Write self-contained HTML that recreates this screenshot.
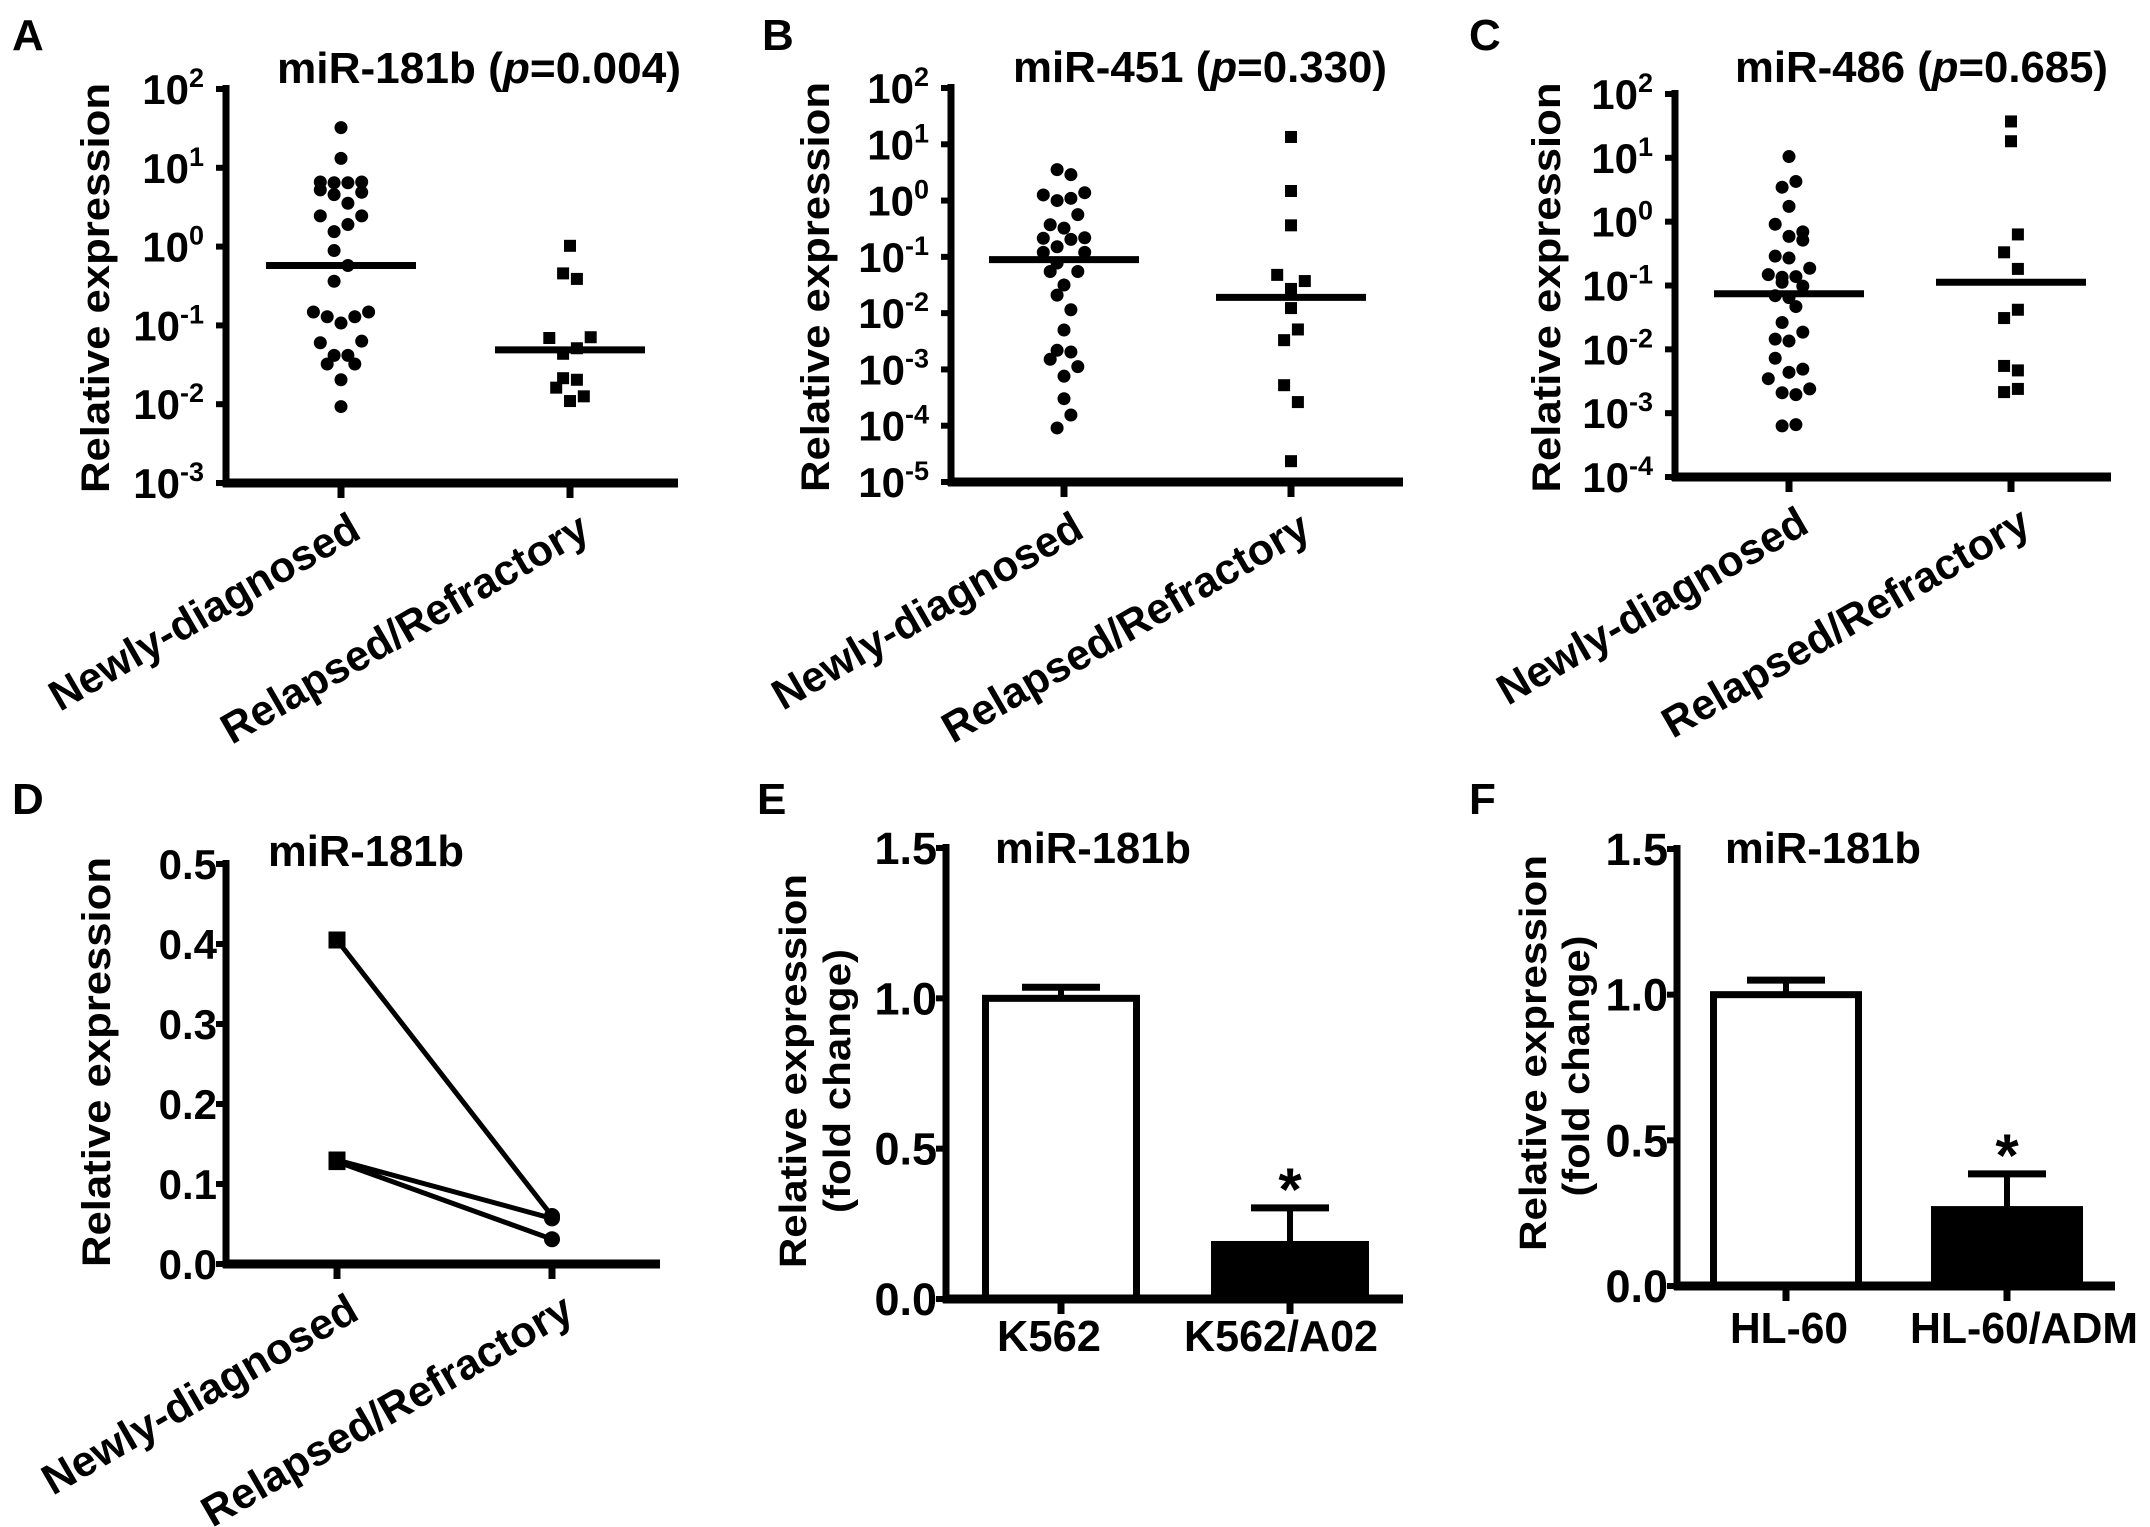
<!DOCTYPE html>
<html><head><meta charset="utf-8"><title>miR-181b expression figure</title>
<style>
html,body{margin:0;padding:0;background:#fff;}
svg{display:block;font-family:"Liberation Sans",Arial,sans-serif;font-weight:bold;}
</style></head>
<body>
<svg id="fig" xmlns="http://www.w3.org/2000/svg" width="2150" height="1527" viewBox="0 0 2150 1527">
<rect width="2150" height="1527" fill="#fff"/>
</svg>
<script>
// ---------- data (log10 values; jitter slots) ----------
const categoriesAC = ['Newly-diagnosed', 'Relapsed/Refractory'];
const aNewLog = [1.51,1.12,0.82,0.81,0.81,0.82,0.72,0.66,0.69,0.55,0.39,0.39,0.28,0.19,-0.05,-0.24,-0.44,-0.83,-0.89,-0.89,-0.83,-0.97,-1.22,-1.20,-1.38,-1.38,-1.49,-1.49,-1.69,-2.03];
const aNewSlot = [0,0,-3,-1,1,3,-3,-1,3,1,-3,3,1,-1,-1,1,-1,-4,-2,2,4,0,-3,3,-1,1,-2,2,0,0];
const aRelLog = [0.01,-0.34,-0.41,-1.16,-1.15,-1.29,-1.36,-1.67,-1.69,-1.79,-1.90,-1.96];
const aRelSlot = [0,-1,1,-3,3,1,-1,-1,1,-2,2,0];
const aMedians = [-0.24,-1.31];
const bNewLog = [0.55,0.46,0.10,0.14,0.0,0.04,-0.25,-0.43,-0.49,-0.67,-0.69,-0.66,-0.82,-0.92,-0.92,-1.11,-1.26,-1.26,-1.50,-1.68,-1.94,-2.30,-2.66,-2.69,-2.82,-2.95,-3.12,-3.52,-3.81,-4.04];
const bNewSlot = [-1,1,-3,3,-1,1,2,-2,0,-3,1,3,-1,-3,3,-1,-2,2,0,-1,1,0,-1,1,-2,2,0,0,1,-1];
const bRelLog = [1.13,0.17,-0.44,-1.32,-1.43,-1.57,-1.91,-2.29,-2.48,-3.28,-3.58,-4.63];
const bRelSlot = [0,0,0,-2,2,0,0,1,-1,-1,1,0];
const bMedians = [-1.05,-1.72];
const cNewLog = [1.02,0.63,0.54,0.24,-0.04,-0.16,-0.23,-0.29,-0.54,-0.57,-0.73,-0.83,-0.87,-0.86,-0.95,-1.01,-1.16,-1.19,-1.33,-1.58,-1.73,-1.84,-1.87,-2.14,-2.31,-2.46,-2.36,-2.68,-2.71,-2.62,-3.20,-3.18];
const cNewSlot = [0,1,-1,0,-2,2,0,2,-2,0,3,-3,-1,1,-1,2,-2,0,1,-1,2,-2,0,-2,2,-3,0,-1,1,3,-1,1];
const cRelLog = [1.57,1.26,-0.20,-0.48,-0.74,-1.38,-1.51,-2.26,-2.33,-2.67,-2.62];
const cRelSlot = [0,0,1,-1,1,1,-1,-1,1,-1,1];
const cMedians = [-1.13,-0.95];
const dTicks = ['0.0','0.1','0.2','0.3','0.4','0.5'];
const dNewly = [0.405,0.130,0.128];
const dRelapsed = [0.060,0.057,0.031];
const barTicks = ['0.0','0.5','1.0','1.5'];
const eCategories = ['K562','K562/A02'];
const eMeans = [1.0,0.183];
const eErrors = [0.037,0.120];
const fCategories = ['HL-60','HL-60/ADM'];
const fMeans = [1.0,0.264];
const fErrors = [0.05,0.121];

// ---------- helpers ----------
const NS = 'http://www.w3.org/2000/svg';
const svg = document.getElementById('fig');
function mk(tag, attrs, name, parent) {
  const el = document.createElementNS(NS, tag);
  for (const k in attrs) el.setAttribute(k, attrs[k]);
  
  
  (parent || svg).appendChild(el);
  return el;
}
function txt(str, attrs, name, parent) {
  const el = mk('text', attrs, name, parent);
  el.textContent = str;
  return el;
}
function line(x1,y1,x2,y2,w,name,g){ return mk('line',{x1,y1,x2,y2,stroke:'#000','stroke-width':w},name,g); }

function panelLabel(L,x,y){ txt(L,{x,y,'font-size':44},'panel-label-'+L.toLowerCase()); }
function yTitle(str,x,cy,len,fs,name,g){
  txt(str,{x:0,y:0,transform:`translate(${x},${cy}) rotate(-90)`,'text-anchor':'middle','font-size':fs,textLength:len,lengthAdjust:'spacingAndGlyphs'},name,g);
}
function rotLabel(str,x,y,len,name,g){
  txt(str,{x:0,y:0,transform:`translate(${x},${y}) rotate(-30)`,'text-anchor':'end','font-size':43,textLength:len,lengthAdjust:'spacingAndGlyphs'},name,g);
}

// ---------- log scatter panels ----------
function logPanel(cfg){
  const g = mk('g',{},'panel-'+cfg.id);
  const ys = v => cfg.yBot - (v - cfg.minE)/(cfg.maxE - cfg.minE)*(cfg.yBot - cfg.yTop);
  const t = txt('',{x:cfg.titleX,y:cfg.titleY,'font-size':44,textLength:cfg.titleLen,lengthAdjust:'spacingAndGlyphs'},'chart-title',g);
  t.appendChild(document.createTextNode(cfg.title+' ('));
  const ti = document.createElementNS(NS,'tspan'); ti.setAttribute('font-style','italic'); ti.textContent='p'; t.appendChild(ti);
  t.appendChild(document.createTextNode('='+cfg.p+')'));
  line(cfg.ax, cfg.yTop-4, cfg.ax, cfg.yBot+4, 7, 'y-axis', g);
  line(cfg.ax-3, cfg.yBot, cfg.xEnd, cfg.yBot, 9, 'x-axis', g);
  for (let e = cfg.minE; e <= cfg.maxE; e++) {
    const y = ys(e);
    line(cfg.ax-10, y, cfg.ax, y, 6, 'y-tick', g);
    const tl = txt('10',{x:cfg.ax-22,y:y+15,'text-anchor':'end','font-size':42},'y-tick-label',g);
    const sp = document.createElementNS(NS,'tspan');
    sp.setAttribute('dy','-17'); sp.setAttribute('font-size','27');
    sp.textContent = String(e);
    tl.appendChild(sp);
  }
  yTitle('Relative expression', cfg.titleAxisX, (cfg.yTop+cfg.yBot)/2+2, 410, 40, 'y-axis-title', g);
  const unit = 6.9;
  cfg.cats.forEach((cx,i)=>{
    line(cx, cfg.yBot, cx, cfg.yBot+15, 7, 'x-tick', g);
    rotLabel(categoriesAC[i], cx+22, cfg.yBot+54, i===0?350:416, 'x-tick-label', g);
    const vals = i===0?cfg.newLog:cfg.relLog, slots = i===0?cfg.newSlot:cfg.relSlot;
    vals.forEach((v,k)=>{
      const x = cx + slots[k]*unit, y = ys(v);
      if (i===0) mk('circle',{cx:x,cy:y,r:6.5,fill:'#000'},'point-newly-diagnosed',g);
      else mk('rect',{x:x-6,y:y-6,width:12,height:12,fill:'#000'},'point-relapsed',g);
    });
    line(cx-75, ys(cfg.medians[i]), cx+75, ys(cfg.medians[i]), 7, 'median-line', g);
  });
}
logPanel({id:'a',title:'miR-181b',p:'0.004',titleX:277,titleY:83,titleLen:404,ax:226,yTop:89,yBot:483,xEnd:678,minE:-3,maxE:2,cats:[341,570],titleAxisX:109,newLog:aNewLog,newSlot:aNewSlot,relLog:aRelLog,relSlot:aRelSlot,medians:aMedians});
logPanel({id:'b',title:'miR-451',p:'0.330',titleX:1013,titleY:82,titleLen:374,ax:951,yTop:88,yBot:482,xEnd:1403,minE:-5,maxE:2,cats:[1064,1291],titleAxisX:829,newLog:bNewLog,newSlot:bNewSlot,relLog:bRelLog,relSlot:bRelSlot,medians:bMedians});
logPanel({id:'c',title:'miR-486',p:'0.685',titleX:1735,titleY:82,titleLen:373,ax:1675,yTop:94,yBot:477,xEnd:2111,minE:-4,maxE:2,cats:[1789,2011],titleAxisX:1560,newLog:cNewLog,newSlot:cNewSlot,relLog:cRelLog,relSlot:cRelSlot,medians:cMedians});
panelLabel('A',12,50); panelLabel('B',762,50); panelLabel('C',1469,50);

// ---------- panel D ----------
(function(){
  const g = mk('g',{},'panel-d');
  const ax=226,yTop=864,yBot=1264,xEnd=660,cats=[337,552],maxV=0.5;
  const ys = v => yBot - v/maxV*(yBot-yTop);
  txt('miR-181b',{x:268,y:866,'font-size':44,textLength:196,lengthAdjust:'spacingAndGlyphs'},'chart-title',g);
  line(ax,yTop-4,ax,yBot+4,7,'y-axis',g);
  line(ax-3,yBot,xEnd,yBot,9,'x-axis',g);
  dTicks.forEach(s=>{
    const y = ys(parseFloat(s));
    line(ax-10,y,ax,y,6,'y-tick',g);
    txt(s,{x:ax-9,y:y+15,'text-anchor':'end','font-size':42},'y-tick-label',g);
  });
  yTitle('Relative expression',110,1062,410,40,'y-axis-title',g);
  cats.forEach((cx,i)=>{
    line(cx,yBot,cx,yBot+15,7,'x-tick',g);
    rotLabel(categoriesAC[i],cx+24,yBot+54,i===0?356:420,'x-tick-label',g);
  });
  dNewly.forEach((v,k)=>{
    line(cats[0],ys(v),cats[1],ys(dRelapsed[k]),5,'paired-line',g);
  });
  dNewly.forEach(v=>{ mk('rect',{x:cats[0]-8.5,y:ys(v)-8.5,width:17,height:17,fill:'#000'},'point-newly-diagnosed',g); });
  dRelapsed.forEach(v=>{ mk('circle',{cx:cats[1],cy:ys(v),r:8,fill:'#000'},'point-relapsed',g); });
  panelLabel('D',12,814);
})();

// ---------- bar panels ----------
function barPanel(cfg){
  const g = mk('g',{},'panel-'+cfg.id);
  const ys = v => cfg.yBot - v/1.5*(cfg.yBot-cfg.yTop);
  txt('miR-181b',{x:cfg.titleX,y:863,'font-size':44,textLength:196,lengthAdjust:'spacingAndGlyphs'},'chart-title',g);
  cfg.means.forEach((m,i)=>{
    const cx = cfg.cats[i], top = ys(m), et = ys(m+cfg.errs[i]);
    line(cx,top,cx,et,6,'error-bar',g);
    line(cx-39,et,cx+39,et,7,'error-cap',g);
    if (i===0) mk('rect',{x:cx-cfg.hw+3.5,y:top,width:2*cfg.hw-7,height:cfg.yBot-top,fill:'#fff',stroke:'#000','stroke-width':7},'bar-'+cfg.cl[i].toLowerCase(),g);
    else {
      mk('rect',{x:cx-cfg.hw,y:top-3,width:2*cfg.hw,height:cfg.yBot-top+3,fill:'#000'},'bar-'+cfg.cl[i].toLowerCase().replace('/','-'),g);
      txt('*',{x:cx,y:et+2,'text-anchor':'middle','font-size':60},'significance-asterisk',g);
    }
    line(cx,cfg.yBot,cx,cfg.yBot+15,7,'x-tick',g);
    txt(cfg.cl[i],{x:cfg.labX[i],y:cfg.labY,'text-anchor':'middle','font-size':44,textLength:cfg.labLen[i],lengthAdjust:'spacingAndGlyphs'},'x-tick-label',g);
  });
  line(cfg.ax,cfg.yTop-4,cfg.ax,cfg.yBot+4,7,'y-axis',g);
  line(cfg.ax-3,cfg.yBot,cfg.xEnd,cfg.yBot,9,'x-axis',g);
  barTicks.forEach(s=>{
    const y = ys(parseFloat(s));
    line(cfg.ax-10,y,cfg.ax,y,6,'y-tick',g);
    txt(s,{x:cfg.ax-9,y:y+16,'text-anchor':'end','font-size':45},'y-tick-label',g);
  });
  yTitle('Relative expression',cfg.t1x,cfg.t1y,cfg.t1len,38,'y-axis-title',g);
  yTitle('(fold change)',cfg.t2x,cfg.t2y,cfg.t2len,38,'y-axis-title-line2',g);
}
barPanel({id:'e',ax:946,yTop:848,yBot:1299,xEnd:1403,cats:[1061,1290],hw:79,means:eMeans,errs:eErrors,cl:eCategories,titleX:995,labX:[1049,1281],labY:1351,labLen:[104,194],t1x:806,t1y:1071,t1len:394,t2x:850,t2y:1081,t2len:264});
barPanel({id:'f',ax:1677,yTop:849,yBot:1286,xEnd:2115,cats:[1786,2007],hw:76,means:fMeans,errs:fErrors,cl:fCategories,titleX:1725,labX:[1789,2024],labY:1343,labLen:[118,228],t1x:1546,t1y:1053,t1len:396,t2x:1589,t2y:1066,t2len:261});
panelLabel('E',757,814); panelLabel('F',1469,814);
</script>
</body></html>
